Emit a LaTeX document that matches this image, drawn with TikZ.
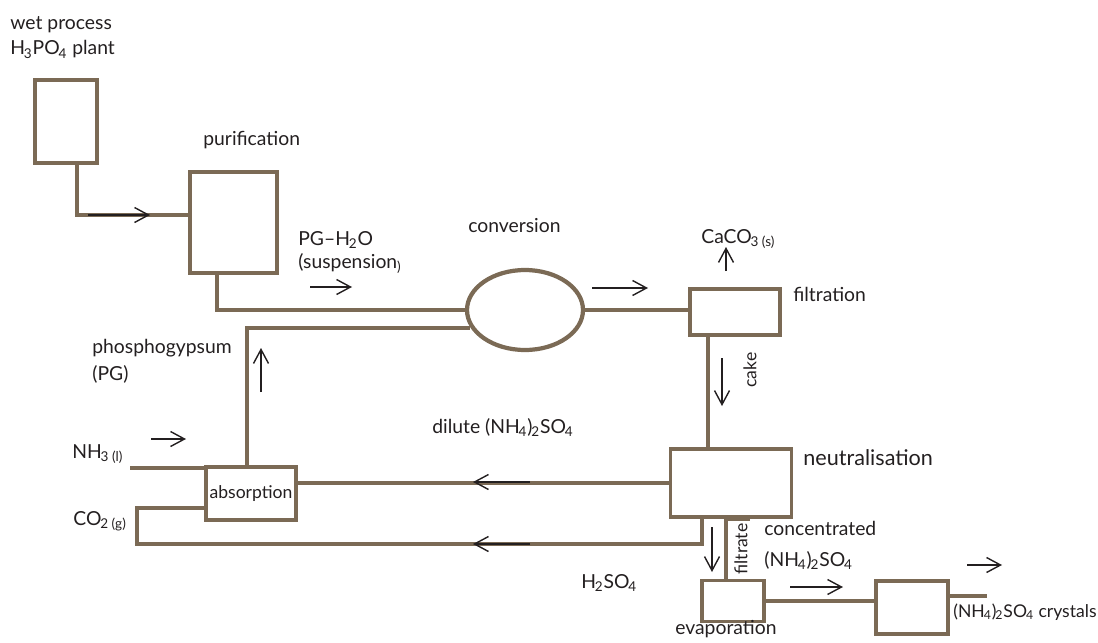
\documentclass[tikz,border=0pt]{standalone}
\usepackage{fontspec}
\setmainfont{Lato}
\usetikzlibrary{arrows.meta,shapes.geometric}
\definecolor{pipec}{HTML}{7B6A55}
\definecolor{ink}{HTML}{231F20}
\newcommand\lsub[1]{\kern-0.06em\textsubscript{#1}}
\begin{document}
\begin{tikzpicture}[x=0.02cm,y=-0.02cm,
  unit/.style={draw=pipec,line width=2.2pt,rectangle,inner sep=0pt},
  flow/.style={draw=pipec,line width=2.2pt},
  dir/.style={draw=ink,line width=0.8pt,-{Straight Barb[length=0.28cm,width=0.3cm]}},
  lbl/.style={text=ink,font=\fontsize{11}{13}\selectfont,inner sep=0pt,anchor=base west},
  rlbl/.style={text=ink,font=\fontsize{10}{12}\selectfont,inner sep=0pt,rotate=90},
]
\useasboundingbox (0,0) rectangle (1098,642);
% units
\node[unit,minimum width=1.24cm,minimum height=1.66cm] (b1) at (66,121.5) {};
\node[unit,minimum width=1.74cm,minimum height=2.02cm] (pur) at (233.5,222.5) {};
\node[draw=pipec,line width=2.4pt,ellipse,inner sep=0pt,minimum width=2.32cm,minimum height=1.6cm] (conv) at (525,310) {};
\node[unit,minimum width=1.8cm,minimum height=0.92cm] (fil) at (735,312) {};
\node[unit,minimum width=2.42cm,minimum height=1.36cm] (neu) at (731,483) {};
\node[unit,minimum width=1.8cm,minimum height=1.06cm,text=ink,font=\fontsize{10}{12}\selectfont] (abs) at (251,493.5) {absorption};
\node[unit,minimum width=1.24cm,minimum height=0.82cm] (eva) at (733,601) {};
\node[unit,minimum width=1.44cm,minimum height=1.06cm] (cry) at (912,607.5) {};
% helper coordinates
\coordinate (j1) at (77,215);
\coordinate (j2) at (217,310);
\coordinate (j3) at (247,327);
\coordinate (jc) at (708,0);
\coordinate (nh) at (130,468);
\coordinate (cA) at (702,544);
\coordinate (cB) at (137,544);
\coordinate (cC) at (137,508);
\coordinate (jf) at (726,0);
\coordinate (ce) at (987,596);
% pipes
\draw[flow] (b1.south -| j1) |- (pur.west |- j1);
\draw[flow] (pur.south -| j2) |- (conv.west);
\draw[flow] (abs.north -| j3) |- (conv.198);
\draw[flow] (conv.east) -- (conv.east -| fil.west);
\draw[flow] (fil.south -| jc) -- (neu.north -| jc);
\draw[flow] (neu.west) -- (neu.west -| abs.east);
\draw[flow] (nh) -- (nh -| abs.west);
\draw[flow] (neu.south -| cA) -- (cA) -- (cB) -- (cC) -- (cC -| abs.west);
\draw[flow] (neu.south -| jf) -- (eva.north -| jf);
\draw[flow] (neu.south -| jf) -- ([xshift=0.48cm]neu.south -| jf);
\draw[flow] (eva.east) -- (eva.east -| cry.west);
\draw[flow] (ce -| cry.east) -- (ce);
% flow direction arrows
\coordinate (a1s) at (88,215);   \coordinate (a1e) at (150,215);
\coordinate (a2s) at (310,287);  \coordinate (a2e) at (352,287);
\coordinate (a3s) at (592,288);  \coordinate (a3e) at (648,288);
\coordinate (a4s) at (726,271);  \coordinate (a4e) at (726,247);
\coordinate (a5s) at (722,358);  \coordinate (a5e) at (722,406);
\coordinate (a6s) at (261,392);  \coordinate (a6e) at (261,348);
\coordinate (a7s) at (151,439);  \coordinate (a7e) at (186,439);
\coordinate (a8s) at (530,482);  \coordinate (a8e) at (473,482);
\coordinate (a9s) at (530,544);  \coordinate (a9e) at (473,544);
\coordinate (a10s) at (712,527); \coordinate (a10e) at (712,572);
\coordinate (a11s) at (790,587); \coordinate (a11e) at (843,587);
\coordinate (a12s) at (967,565); \coordinate (a12e) at (1002,565);
\foreach \n in {1,...,12} \draw[dir] (a\n s) -- (a\n e);
% labels
\node[lbl] (t1) at (10,30) {wet process};
\node[lbl] (t2) at (10,55) {H\lsub{3}PO\lsub{4} plant};
\node[lbl] (t3) at (203,145) {purification};
\node[lbl] (t4) at (298,245) {PG--H\lsub{2}O};
\node[lbl] (t5) at (298,268) {(suspension\textsubscript{)}};
\node[lbl] (t6) at (468,232) {conversion};
\node[lbl] (t7) at (701,243) {CaCO\lsub{3 (s)}};
\node[lbl] (t8) at (793,301) {filtration};
\node[rlbl] (t9) at (750,370) {cake};
\node[lbl] (t10) at (92,353) {phosphogypsum};
\node[lbl] (t11) at (92,380) {(PG)};
\node[lbl] (t12) at (72,458) {NH\lsub{3 (l)}};
\node[lbl] (t13) at (73,525) {CO\lsub{2 (g)}};
\node[lbl] (t14) at (432,433) {dilute (NH\lsub{4})\lsub{2}SO\lsub{4}};
\node[lbl,font=\fontsize{12.3}{14}\selectfont] (t15) at (803,465) {neutralisation};
\node[lbl] (t16) at (764,535) {concentrated};
\node[lbl] (t17) at (764,566) {(NH\lsub{4})\lsub{2}SO\lsub{4}};
\node[rlbl] (t18) at (741,549) {filtrate};
\node[lbl] (t19) at (581,588) {H\lsub{2}SO\lsub{4}};
\node[lbl] (t20) at (675,634) {evaporation};
\node[lbl,font=\fontsize{10}{12}\selectfont] (t21) at (953,617) {(NH\lsub{4})\lsub{2}SO\lsub{4} crystals};
\end{tikzpicture}
\end{document}
